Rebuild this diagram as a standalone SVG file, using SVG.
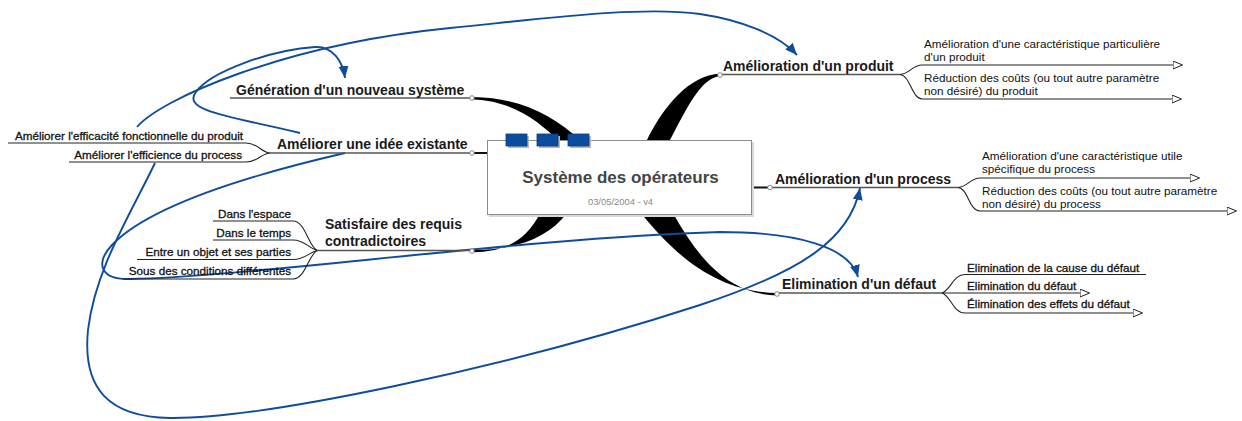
<svg xmlns="http://www.w3.org/2000/svg" width="1242" height="421" viewBox="0 0 1242 421">
  <style>
    text { font-family: "Liberation Sans", Arial, sans-serif; }
    .main { font-size: 14px; font-weight: bold; fill: #1a1a1a; }
    .sub { font-size: 11.7px; fill: #111; }
    .heavy { stroke: #111; stroke-width: 0.3; }
    .end { text-anchor: end; }
    .uline { fill: none; stroke: #555; stroke-width: 1.6; }
    .sline { fill: none; stroke: #222; stroke-width: 1.1; }
    .taper { fill: #000; }
    .knot { fill: #fff; stroke: #777; stroke-width: 0.9; }
    .link { fill: none; stroke: #0f4d9c; stroke-width: 1.9; }
    .tab { fill: #0a4c9d; stroke: #083d80; stroke-width: 0.8; }
    .tabshadow { fill: #b8b8b8; }
  </style>
  <defs>
    <marker id="linkHead" markerUnits="userSpaceOnUse" markerWidth="14" markerHeight="12" refX="12" refY="5" orient="auto">
      <path d="M0,0 L12,5 L0,10 Z" fill="#0f4d9c"/>
    </marker>
    <marker id="openHead" markerUnits="userSpaceOnUse" markerWidth="12" markerHeight="10" refX="0.5" refY="4.5" orient="0">
      <path d="M0.5,0.5 L10,4.5 L0.5,8.5 Z" fill="#fff" stroke="#222" stroke-width="1"/>
    </marker>
  </defs>

  <rect width="1242" height="421" fill="#fff"/>

  <!-- connectors: tapered main branches and cross links -->
  <g id="connectors">
    <path class="taper" d="M473 97 C520 98 552 114 582 142 L560 142 C540 123 515 101 473 99.5 Z"/>
    <path class="taper" d="M567 213 C547 240 512 250 473 250 L473 252.3 C505 252 527 240 540 213 Z"/>
    <path class="taper" d="M646 142 C664 105 690 75 720 73.8 L720 76 C701 79 690 102 669 142 Z"/>
    <path class="taper" d="M641 213 C680 262 722 292 777 293 L777 295.5 C730 294 700 262 673 213 Z"/>
    <path d="M472 153 H489" stroke="#111" stroke-width="2" fill="none"/>
    <path d="M750 187.5 H770" stroke="#111" stroke-width="2" fill="none"/>

    <!-- cross links -->
    <path class="link" marker-end="url(#linkHead)" d="M300 133 C240 118 180 112 196 92 C210 72 270 50 315 47 C333 46 343 62 345 78"/>
    <path class="link" marker-end="url(#linkHead)" d="M137 127 C160 100 280 45 450 28 C550 18 640 6 700 14 C740 20 778 34 797 55"/>
    <path class="link" marker-end="url(#linkHead)" d="M155 163 C130 215 95 270 88 330 C82 390 110 417 170 418 C260 419 500 370 700 305 C800 272 850 240 860 188"/>
    <path class="link" marker-end="url(#linkHead)" d="M345 153 C250 175 150 205 112 245 C95 263 100 280 130 279 C250 277 520 238 720 232 C800 232 850 248 858 277"/>
  </g>

  <!-- central topic -->
  <g id="center">
    <rect x="489" y="142" width="265" height="75" fill="#d9d9d9"/>
    <rect x="487.5" y="140.5" width="264" height="74" fill="#fff" stroke="#8c8c8c" stroke-width="1"/>
    <rect class="tabshadow" x="508" y="136" width="21" height="12"/>
    <rect class="tabshadow" x="539" y="136" width="21" height="12"/>
    <rect class="tabshadow" x="570" y="136" width="21" height="12"/>
    <rect class="tab" x="506" y="134" width="21" height="12"/>
    <rect class="tab" x="537" y="134" width="21" height="12"/>
    <rect class="tab" x="568" y="134" width="21" height="12"/>
    <text x="620.5" y="183" text-anchor="middle" font-size="17" font-weight="bold" fill="#444">Système des opérateurs</text>
    <text x="620.5" y="204.5" text-anchor="middle" font-size="9.4" fill="#888">03/05/2004 - v4</text>
  </g>

  <!-- left side -->
  <g id="generation">
    <path class="uline" d="M230 98 H472"/>
    <circle class="knot" cx="472" cy="98" r="2.3"/>
    <text class="main" x="236" y="95">Génération d'un nouveau système</text>
  </g>

  <g id="ameliorer-idee">
    <path class="uline" d="M270 153 H472"/>
    <circle class="knot" cx="472" cy="153" r="2.3"/>
    <text class="main" x="277" y="148.5">Améliorer une idée existante</text>
    <path class="sline" d="M8 143 H246 C258 143 262 153 270 153"/>
    <path class="sline" d="M69 162 H246 C258 162 262 153 270 153"/>
    <text class="sub heavy end" x="243" y="139.5">Améliorer l'efficacité fonctionnelle du produit</text>
    <text class="sub heavy end" x="242" y="158.5">Améliorer l'efficience du process</text>
  </g>

  <g id="satisfaire">
    <path class="uline" d="M317 250.5 H472"/>
    <circle class="knot" cx="472" cy="251" r="2.3"/>
    <text class="main" x="325" y="229">Satisfaire des requis</text>
    <text class="main" x="325" y="245.5">contradictoires</text>
    <path class="sline" d="M213 221 H293 C305 221 308 245 317 250.5"/>
    <path class="sline" d="M213 240 H293 C305 240 308 248 317 250.5"/>
    <path class="sline" d="M137 259.5 H293 C305 259.5 308 253 317 250.5"/>
    <path class="sline" d="M123 279 H293 C305 279 308 256 317 250.5"/>
    <text class="sub heavy end" x="291" y="217.5">Dans l'espace</text>
    <text class="sub heavy end" x="291" y="236.5">Dans le temps</text>
    <text class="sub heavy end" x="291" y="256">Entre un objet et ses parties</text>
    <text class="sub heavy end" x="291" y="275">Sous des conditions différentes</text>
  </g>

  <!-- right side -->
  <g id="amelioration-produit">
    <path class="uline" d="M720 74.5 H900"/>
    <circle class="knot" cx="720" cy="75" r="2.3"/>
    <text class="main" x="723" y="70.5">Amélioration d'un produit</text>
    <path class="sline" marker-end="url(#openHead)" d="M900 74.5 C910 74 912 65 922 65 H1173"/>
    <path class="sline" marker-end="url(#openHead)" d="M900 74.5 C910 75 912 99 922 99 H1172"/>
    <text class="sub" x="924" y="48">Amélioration d'une caractéristique particulière</text>
    <text class="sub" x="924" y="61">d'un produit</text>
    <text class="sub" x="924" y="82">Réduction des coûts (ou tout autre paramètre</text>
    <text class="sub" x="924" y="95">non désiré) du produit</text>
  </g>

  <g id="amelioration-process">
    <path class="uline" d="M770 187.5 H958"/>
    <circle class="knot" cx="770" cy="187.5" r="2.3"/>
    <text class="main" x="775" y="183.5">Amélioration d'un process</text>
    <path class="sline" marker-end="url(#openHead)" d="M958 187.5 C968 187 970 178 980 178 H1190"/>
    <path class="sline" marker-end="url(#openHead)" d="M958 187.5 C968 188 969 211 980 211 H1227"/>
    <text class="sub" x="982" y="160">Amélioration d'une caractéristique utile</text>
    <text class="sub" x="982" y="173">spécifique du process</text>
    <text class="sub" x="982" y="195">Réduction des coûts (ou tout autre paramètre</text>
    <text class="sub" x="982" y="207.5">non désiré) du process</text>
  </g>

  <g id="elimination-defaut">
    <path class="uline" d="M777 293 H942"/>
    <circle class="knot" cx="777" cy="294" r="2.3"/>
    <text class="main" x="782" y="288.5">Elimination d'un défaut</text>
    <path class="sline" d="M942 293 C951 290 953 274.5 965 274.5 H1146"/>
    <path class="sline" marker-end="url(#openHead)" d="M942 293 H1080"/>
    <path class="sline" marker-end="url(#openHead)" d="M942 293 C951 296 953 313 965 313 H1133"/>
    <text class="sub heavy" x="967" y="271.5">Elimination de la cause du défaut</text>
    <text class="sub heavy" x="967" y="290">Elimination du défaut</text>
    <text class="sub heavy" x="967" y="308">Élimination des effets du défaut</text>
  </g>
</svg>
